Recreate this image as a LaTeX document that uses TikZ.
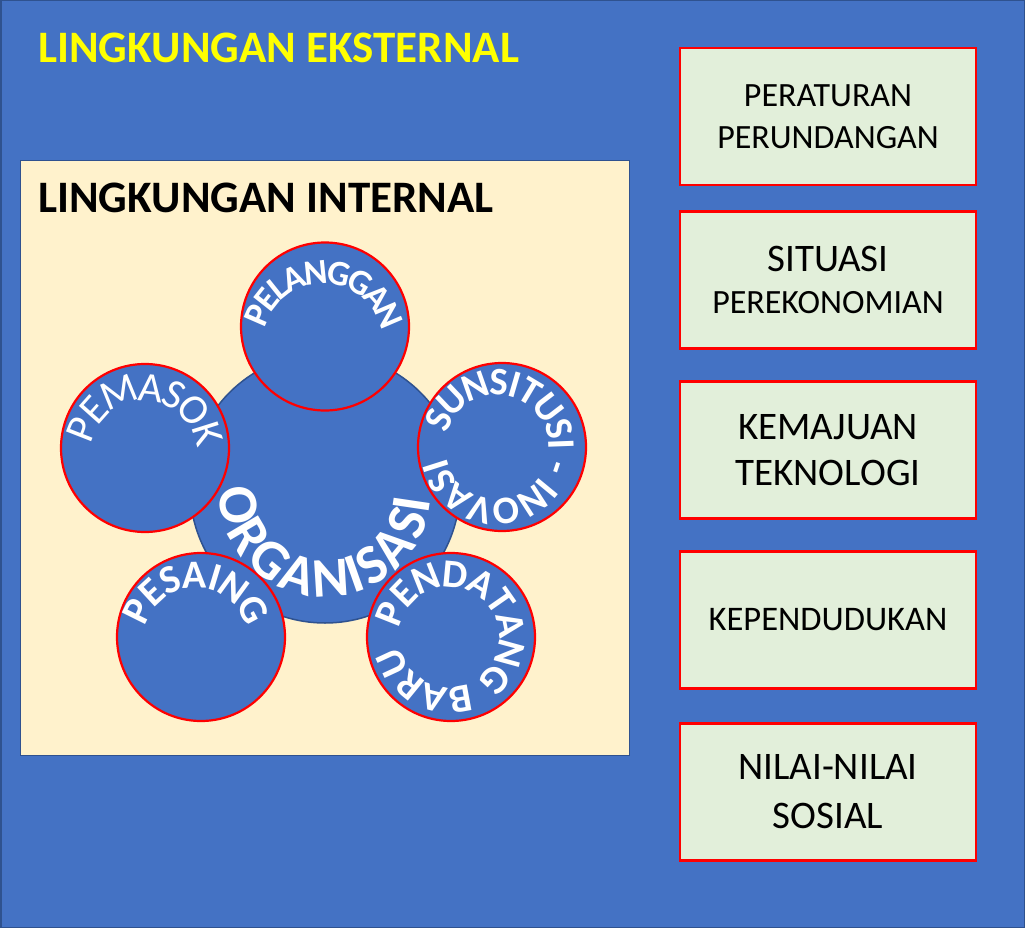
\documentclass[tikz,border=0pt]{standalone}
\usepackage{fontspec}
\setmainfont{Carlito}
\usetikzlibrary{decorations.text,calc}
\definecolor{bgblue}{HTML}{4472C4}
\definecolor{edgeblue}{HTML}{2F528F}
\definecolor{intfill}{HTML}{FFF2CC}
\definecolor{boxfill}{HTML}{E2EFDA}
\definecolor{titleyellow}{HTML}{FFFF00}
\newcommand\cfA{\bfseries\fontsize{35.5}{35.5}\selectfont\color{white}}
\newcommand\cfB{\mdseries\fontsize{42}{42}\selectfont\color{white}}
\newcommand\cfC{\bfseries\fontsize{39}{39}\selectfont\color{white}}
\newcommand\cfD{\bfseries\fontsize{40}{40}\selectfont\color{white}}
\newcommand\cfE{\bfseries\fontsize{40}{40}\selectfont\color{white}}
\newcommand\cfF{\bfseries\fontsize{56}{56}\selectfont\color{white}}
\tikzset{
  smallc/.style={circle, fill=bgblue, draw=red, line width=2.2pt, minimum size=168pt, inner sep=0pt},
  rbox/.style={rectangle, draw=red, fill=boxfill, line width=2.2pt, minimum width=296pt, minimum height=137pt, align=center, inner sep=0pt, font=\fontsize{34}{42}\selectfont},
  titletext/.style={anchor=base west, inner sep=0pt, font=\bfseries\fontsize{45}{54}\selectfont}
}
\begin{document}
\begin{tikzpicture}[x=1pt,y=1pt]
\useasboundingbox (0,0) rectangle (1025,-928);
\path[fill=bgblue, draw=edgeblue, line width=1.5pt] (0.75,-0.75) rectangle (1024.25,-927.25);
\node[titletext, text=titleyellow] (ext) at (38,-63) {LINGKUNGAN EKSTERNAL};
\node[draw=edgeblue, fill=intfill, line width=1.2pt, minimum width=609pt, minimum height=595pt, anchor=north west, inner sep=0pt] (int) at (20,-160) {};
\node[titletext, text=black] (intt) at (38,-213) {LINGKUNGAN INTERNAL};
% circles
\node[circle, fill=bgblue, draw=edgeblue, line width=1.5pt, minimum size=270pt, inner sep=0pt] (org) at (325,-488) {};
\node[smallc] (pel) at (325,-326.5) {};
\node[smallc] (pem) at (145,-448) {};
\node[smallc] (sun) at (502,-447) {};
\node[smallc] (pes) at (201,-637) {};
\node[smallc] (pen) at (451,-637) {};
% curved texts
\coordinate (pelc) at (323,-344);
\coordinate (pemc) at (144,-454);
\coordinate (sunc) at (497,-447);
\coordinate (pesc) at (196,-640);
\coordinate (penc) at (449,-637);
\coordinate (orgc) at (325,-491);
\path[decorate, decoration={text along path, text align=fit to path, raise=-11pt,
  text={|\cfA|PELANGGAN}}]
  ($(pelc)+(164:71)$) arc[start angle=164, end angle=14, radius=71];
\path[decorate, decoration={text along path, text align=fit to path, raise=-13pt,
  text={|\cfB|PEMASOK}}]
  ($(pemc)+(168:66)$) arc[start angle=168, end angle=8, radius=66];
\path[decorate, decoration={text along path, text align=fit to path, raise=-12pt,
  text={|\cfC|SUNSITUSI - INOVASI}}]
  ($(sunc)+(163:64)$) arc[start angle=163, end angle=-167, radius=64];
\path[decorate, decoration={text along path, text align=fit to path, raise=-12.5pt,
  text={|\cfD|PESAING}}]
  ($(pesc)+(163:64.5)$) arc[start angle=163, end angle=17, radius=64.5];
\path[decorate, decoration={text along path, text align=fit to path, raise=-12.5pt,
  text={|\cfE|PENDATANG BARU}}]
  ($(penc)+(168:62.5)$) arc[start angle=168, end angle=-167, radius=62.5];
\path[decorate, decoration={text along path, text align=fit to path, raise=-11pt,
  text={|\cfF|ORGANISASI}}]
  ($(orgc)+(178:95)$) arc[start angle=178, end angle=356, radius=95];
% right boxes
\node[rbox] (b1) at (828,-116.5) {PERATURAN\\PERUNDANGAN};
\node[rbox] (b2) at (828,-280) {{\fontsize{39}{46}\selectfont SITUASI}\\PEREKONOMIAN};
\node[rbox, font=\fontsize{39}{46}\selectfont] (b3) at (828,-450) {KEMAJUAN\\TEKNOLOGI};
\node[rbox, font=\fontsize{34.5}{42}\selectfont] (b4) at (828,-620) {KEPENDUDUKAN};
\node[rbox, font=\fontsize{39}{49}\selectfont] (b5) at (828,-792) {NILAI-NILAI\\SOSIAL};
\end{tikzpicture}
\end{document}
